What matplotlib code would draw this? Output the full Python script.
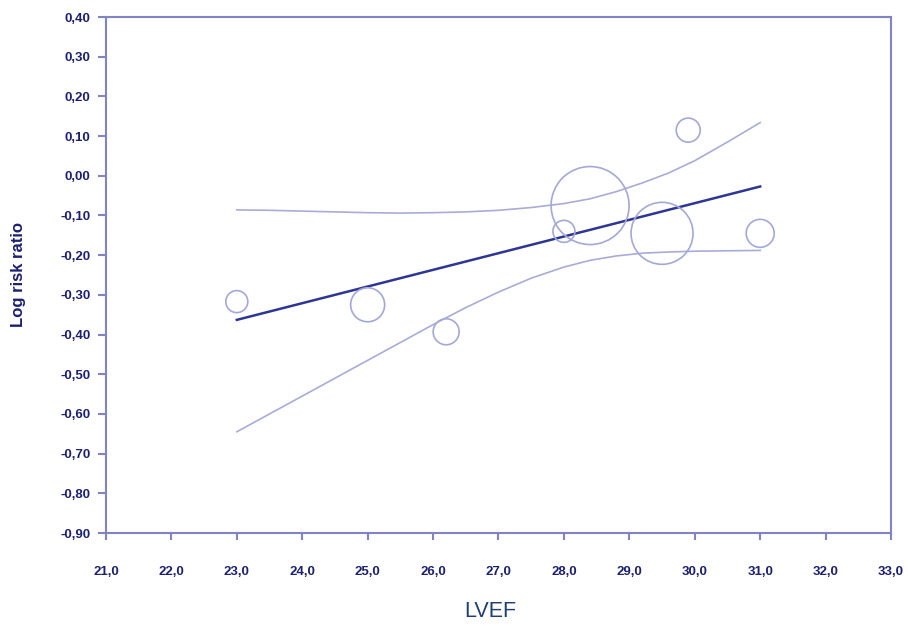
import numpy as np
import matplotlib
matplotlib.use('Agg')
import matplotlib.pyplot as plt
from matplotlib.ticker import FuncFormatter

# study points (LVEF, log risk ratio, study weight)
lvef = [23.0, 25.0, 26.2, 28.0, 28.4, 29.5, 29.9, 31.0]
log_rr = [-0.317, -0.325, -0.393, -0.14, -0.075, -0.145, 0.115, -0.145]
weight = [121, 289, 169, 121, 1521, 961, 144, 196]

# meta-regression line and confidence band
fit_x = [23.0, 31.0]
fit_y = [-0.363, -0.027]
ci_x = [23.0, 23.5, 24.0, 24.5, 25.0, 25.5, 26.0, 26.5, 27.0, 27.5, 28.0, 28.4,
        28.8, 29.2, 29.6, 30.0, 30.5, 31.0]
ci_upper = [-0.086, -0.087, -0.089, -0.091, -0.093, -0.094, -0.093, -0.091, -0.087,
            -0.08, -0.07, -0.058, -0.04, -0.018, 0.007, 0.038, 0.085, 0.134]
ci_lower = [-0.645, -0.6, -0.555, -0.51, -0.465, -0.42, -0.375, -0.332, -0.293,
            -0.258, -0.23, -0.213, -0.202, -0.195, -0.192, -0.19, -0.189, -0.188]

navy = '#1c2070'
spine_c = '#8084c4'

fig = plt.figure(figsize=(9.08, 6.32), dpi=100)
ax = fig.add_axes([0.1167, 0.1566, 0.8646, 0.8165])

ax.plot(ci_x, ci_upper, color='#a9acd8', lw=1.2)
ax.plot(ci_x, ci_lower, color='#a9acd8', lw=1.2)
ax.plot(fit_x, fit_y, color='#2e3694', lw=1.8)
ax.scatter(lvef, log_rr, s=np.array(weight) * (2 * 0.72) ** 2,
           facecolors='none', edgecolors='#a4a8d6', linewidths=1.2, zorder=3)

ax.set_xlim(21, 33)
ax.set_ylim(-0.9, 0.4)
ax.set_xticks(np.arange(21, 34, 1))
ax.set_yticks(np.round(np.arange(-0.9, 0.41, 0.1), 2))
ax.xaxis.set_major_formatter(FuncFormatter(lambda v, p: f'{v:.1f}'.replace('.', ',')))
ax.yaxis.set_major_formatter(
    FuncFormatter(lambda v, p: f'{0.0 if abs(v) < 1e-9 else v:.2f}'.replace('.', ',')))

tick_font = ['Liberation Sans Narrow', 'Liberation Sans', 'DejaVu Sans']
for lab in ax.get_xticklabels() + ax.get_yticklabels():
    lab.set_family(tick_font)
    lab.set_fontweight('bold')
    lab.set_fontsize(9.5)
    lab.set_color(navy)

ax.tick_params(axis='x', direction='out', length=5, width=1.5, color=spine_c, pad=19)
ax.tick_params(axis='y', direction='out', length=6, width=1.5, color=spine_c, pad=5)
for sp in ax.spines.values():
    sp.set_color(spine_c)
    sp.set_linewidth(1.5)

fig.text(0.02, 0.565, 'Log risk ratio', rotation=90, ha='center', va='center',
         fontsize=12, fontweight='bold', color=navy, family=['Liberation Sans', 'DejaVu Sans'])
fig.text(0.54, 0.032, 'LVEF', ha='center', va='center', fontsize=15.5,
         color='#1f3f73', family=['Liberation Sans', 'DejaVu Sans'])

fig.savefig('out.png', dpi=100)
